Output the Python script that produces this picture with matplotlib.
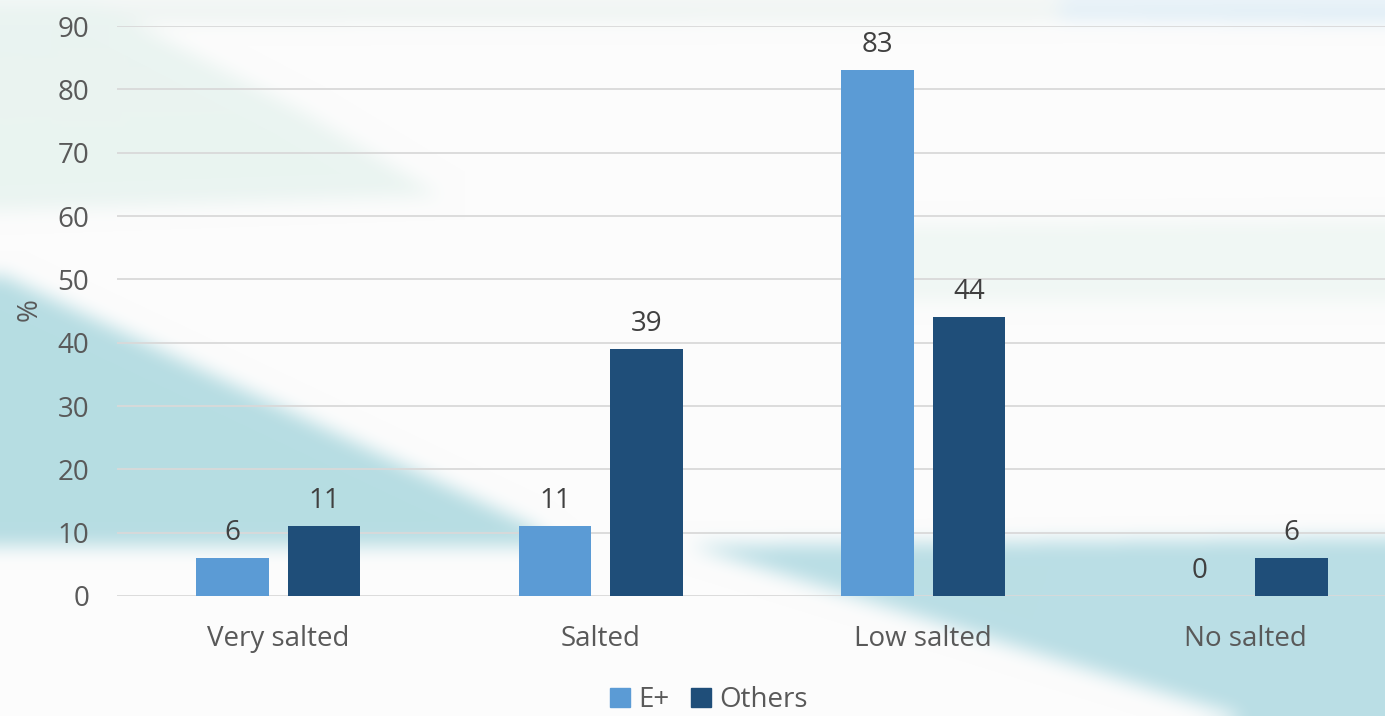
import numpy as np
import matplotlib
matplotlib.use("Agg")
import matplotlib.pyplot as plt
from matplotlib.path import Path
from matplotlib.patches import Patch

categories = ["Very salted", "Salted", "Low salted", "No salted"]
eplus = [6, 11, 83, 0]
others = [11, 39, 44, 6]
series_names = ["E+", "Others"]
yticks = [0, 10, 20, 30, 40, 50, 60, 70, 80, 90]

W, H = 1385, 716
plt.rcParams['font.family'] = ['Open Sans', 'DejaVu Sans']
FS = 20

# soft washed background: pale tints and teal swooshes, blurred
def fill_poly(img, pts, color):
    yy, xx = np.mgrid[0:H, 0:W]
    inside = Path(pts).contains_points(np.c_[xx.ravel(), yy.ravel()]).reshape(H, W)
    img[inside] = np.array(color, dtype=float) / 255.0

def box_blur(img, r):
    for axis in (0, 1):
        pad = [(0, 0)] * 3
        pad[axis] = (r + 1, r)
        p = np.pad(img, pad, mode="edge")
        c = np.cumsum(p, axis=axis)
        n = img.shape[axis]
        hi = np.take(c, np.arange(2 * r + 1, 2 * r + 1 + n), axis=axis)
        lo = np.take(c, np.arange(0, n), axis=axis)
        img = (hi - lo) / (2 * r + 1)
    return img

bg = np.ones((H, W, 3)) * (252 / 255.0)
fill_poly(bg, [(0, 0), (W, 0), (W, 18), (0, 22)], (238, 244, 242))
fill_poly(bg, [(1060, 0), (W, 0), (W, 22), (1060, 18)], (222, 237, 246))
fill_poly(bg, [(0, 0), (90, 0), (300, 110), (440, 195), (0, 210)], (234, 244, 241))
fill_poly(bg, [(900, 225), (W, 220), (W, 300), (900, 300)], (240, 247, 244))
fill_poly(bg, [(0, 274), (530, 525), (555, 545), (0, 545)], (183, 221, 227))
fill_poly(bg, [(690, 545), (W, 537), (W, 716), (1240, 716)], (186, 222, 229))
bg = box_blur(bg, 10)
bg = box_blur(bg, 8)
bg = box_blur(bg, 6)

fig = plt.figure(figsize=(W / 100, H / 100), dpi=100)
bgax = fig.add_axes([0, 0, 1, 1], zorder=0)
bgax.imshow(bg, extent=(0, W, H, 0), aspect="auto", interpolation="bilinear")
bgax.axis("off")

left, x0, ytop = 117, 596, 26
band = 322.5
ax = fig.add_axes([left / W, (H - x0) / H, 4 * band / W, (x0 - ytop) / H], zorder=1)
ax.patch.set_alpha(0)

x = np.arange(len(categories))
bw = 0.225
off = 0.142
b1 = ax.bar(x - off, eplus, bw, color="#5B9BD5", zorder=3)
b2 = ax.bar(x + off, others, bw, color="#1F4E79", zorder=3)

for bars, vals in ((b1, eplus), (b2, others)):
    for rect, v in zip(bars, vals):
        ax.annotate(str(v), (rect.get_x() + rect.get_width() / 2, v),
                    xytext=(0, 8), textcoords="offset points",
                    ha="center", va="bottom", fontsize=FS, color="#404040")

ax.set_xlim(-0.5, 3.5)
ax.set_ylim(0, 90)
ax.set_yticks(yticks)
ax.set_xticks(x)
ax.set_xticklabels(categories)
ax.tick_params(axis="both", length=0, labelsize=FS, colors="#595959")
ax.tick_params(axis="x", pad=21)
ax.tick_params(axis="y", pad=20)
ax.grid(axis="y", color="#D9D9D9", linewidth=1.3, zorder=0)
for s in ax.spines.values():
    s.set_visible(False)

fig.text(30 / W, 1 - 310 / H, "%", rotation=90, ha="center", va="center",
         fontsize=FS, color="#595959")

handles = [Patch(color="#5B9BD5"), Patch(color="#1F4E79")]
fig.legend(handles, series_names, loc="center", bbox_to_anchor=(709 / W, 1 - 700 / H),
           ncol=2, frameon=False, fontsize=FS, labelcolor="#595959",
           handlelength=0.7, handleheight=0.7, handletextpad=0.3, columnspacing=0.8,
           borderpad=0)

fig.savefig("out.png", dpi=100)
